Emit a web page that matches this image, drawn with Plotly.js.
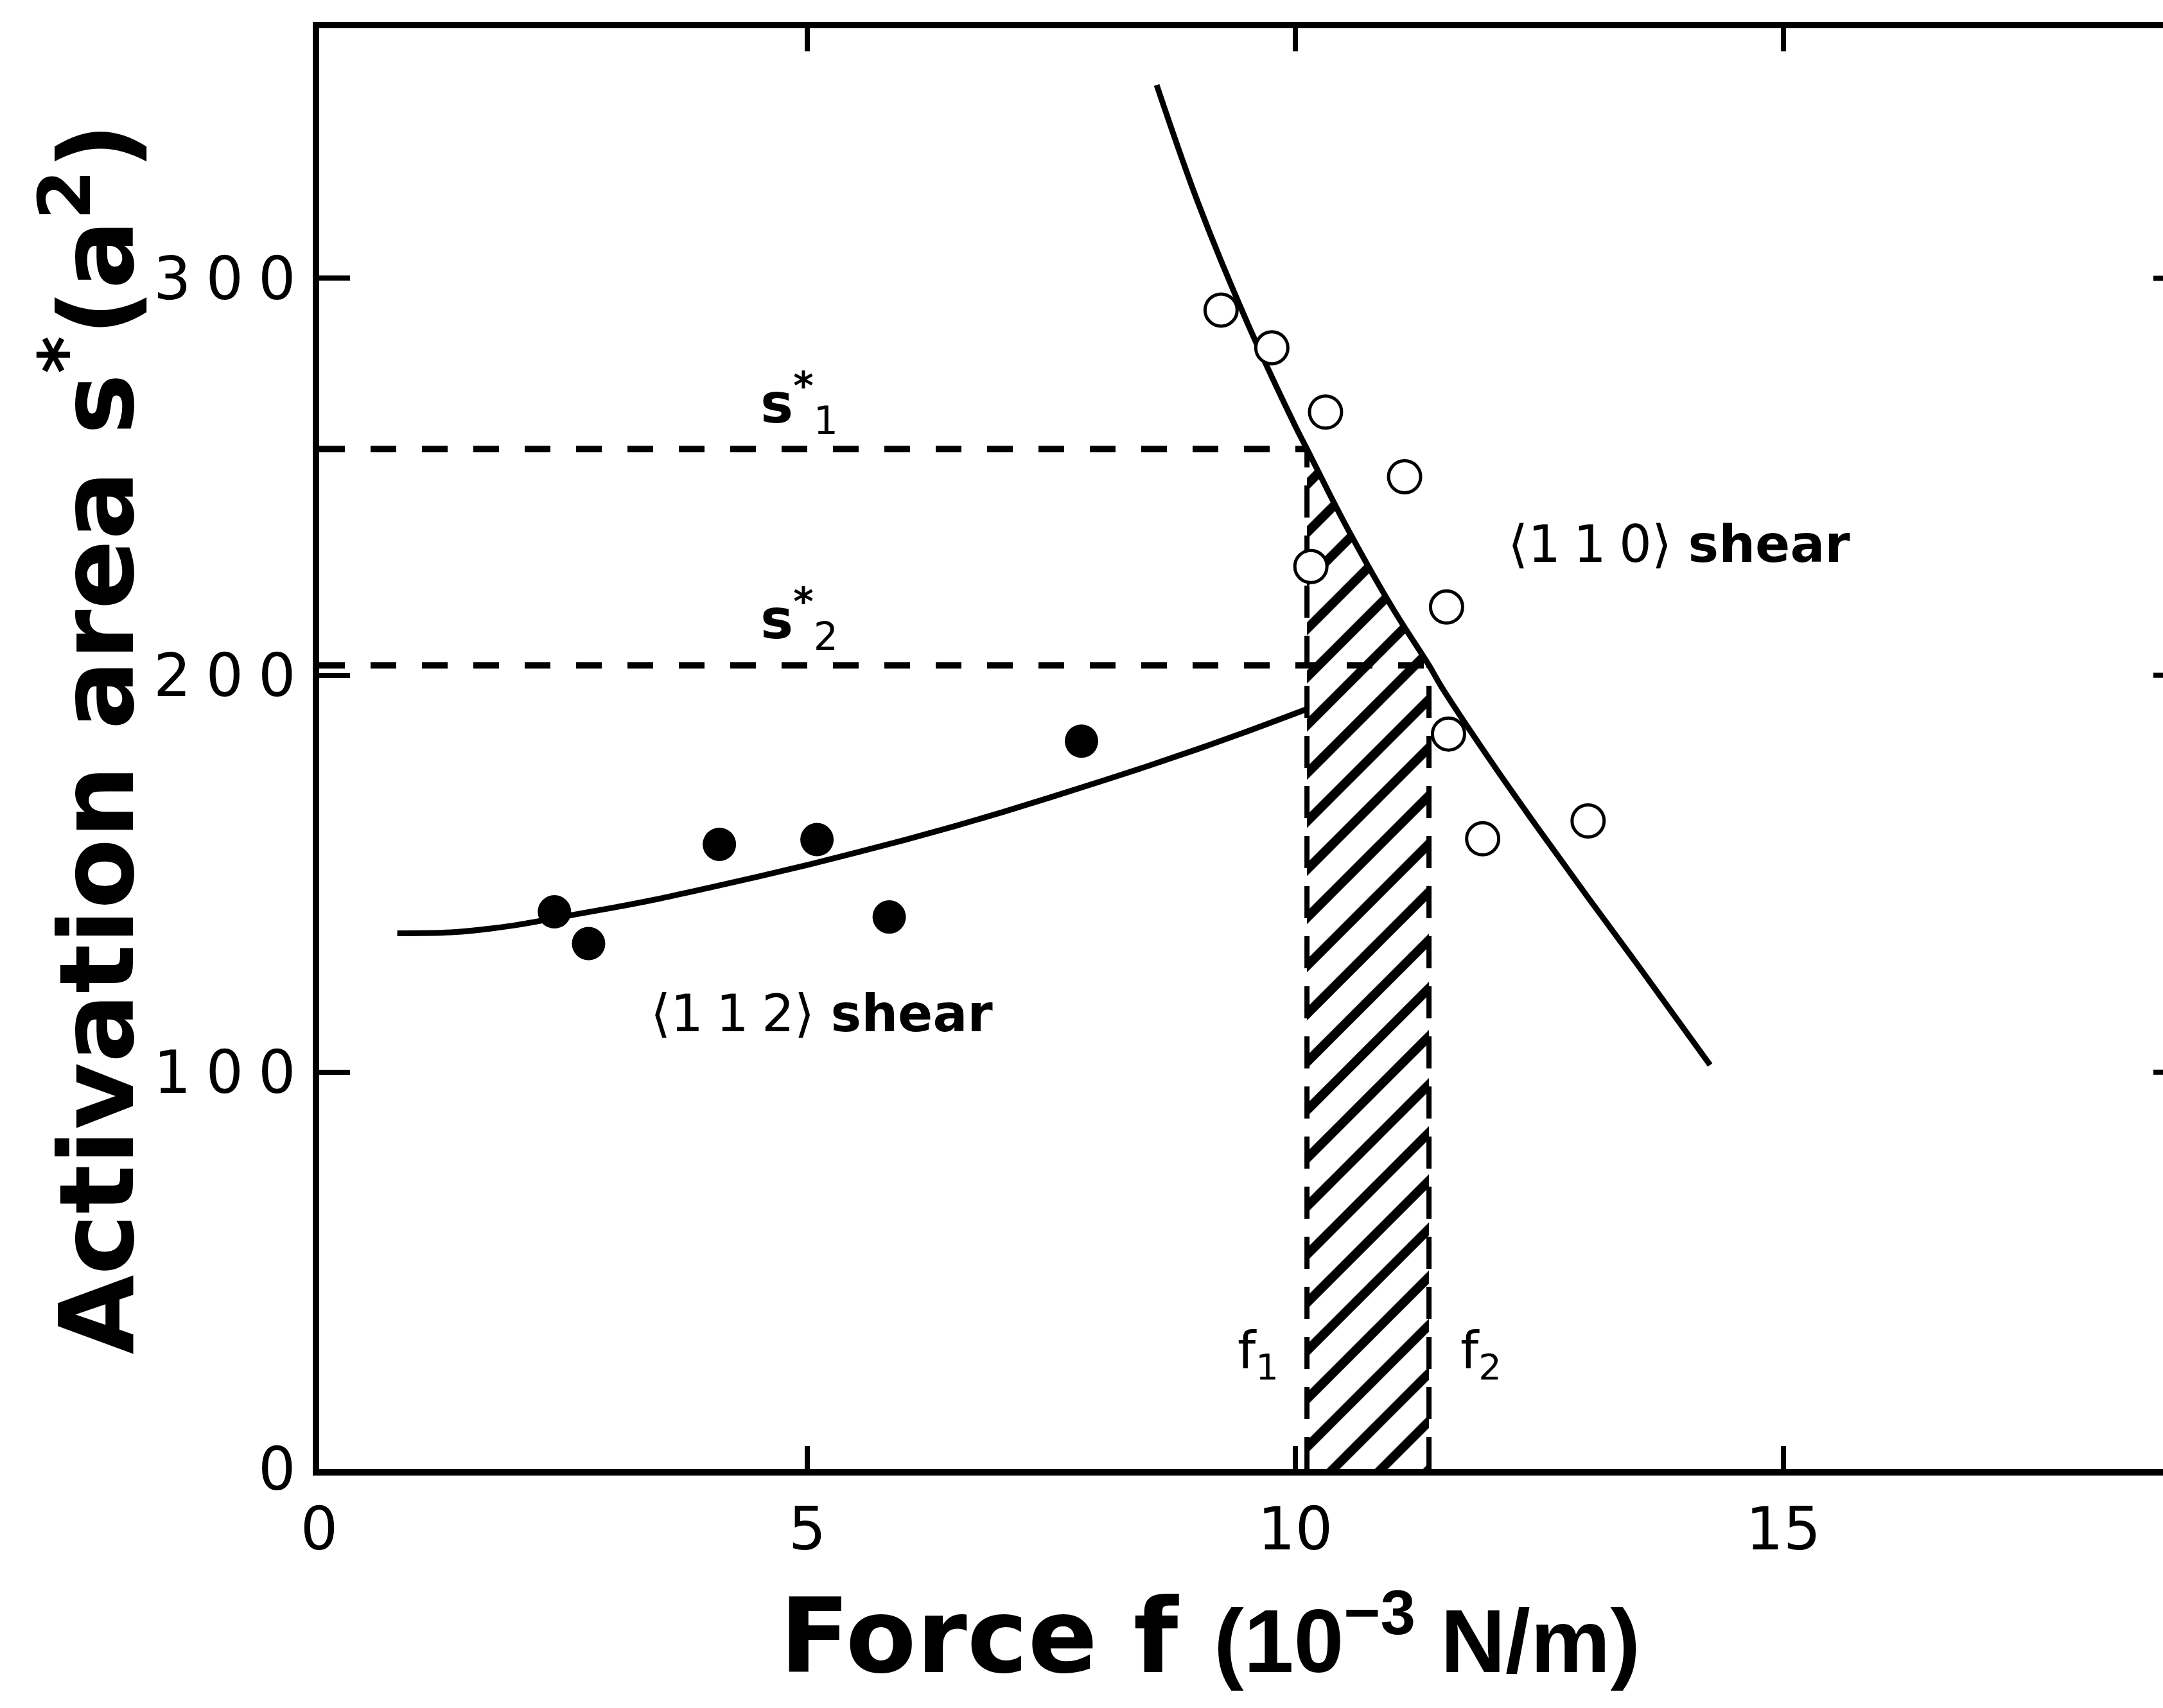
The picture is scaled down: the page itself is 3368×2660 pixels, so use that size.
<!DOCTYPE html>
<html><head><meta charset="utf-8">
<script src="https://cdn.plot.ly/plotly-3.0.1.min.js"></script>
<style>html,body{margin:0;padding:0;background:#fff;}#chart{width:3368px;height:2660px;}</style>
</head><body><div id="chart"></div>
<script>
// <112> shear measurements (filled circles)
const f112 = [2.41, 2.76, 4.10, 5.10, 5.84, 7.81];
const s112 = [140.4, 132.4, 157.4, 158.6, 139.1, 183.4];
// <110> shear measurements (open circles)
const f110 = [9.24, 9.76, 10.31, 11.12, 10.16, 11.55, 11.57, 11.92, 13.0];
const s110 = [292.0, 282.5, 266.3, 250.0, 227.4, 217.2, 185.2, 158.8, 163.3];
// theoretical curves
const fitF112 = [0.8, 1.4, 2.0, 2.5, 3.0, 3.5, 4.0, 4.5, 5.0, 5.5, 6.0, 6.5, 7.0, 7.5, 8.0, 8.5, 9.0, 9.5, 10.12];
const fitS112 = [135.0, 135.3, 137.0, 139.2, 141.4, 143.8, 146.5, 149.3, 152.2, 155.3, 158.5, 161.9, 165.5, 169.3, 173.2, 177.2, 181.4, 185.8, 191.5];
const fitF110 = [8.58, 9.0, 9.5, 10.0, 10.12, 10.5, 11.0, 11.37, 11.5, 12.0, 12.5, 13.0, 13.5, 14.25];
const fitS110 = [348.7, 319.3, 289.3, 262.8, 257.0, 238.6, 216.8, 202.5, 197.0, 178.5, 161.0, 144.0, 127.3, 101.8];
// critical forces and activation areas
const f1 = 10.12, f2 = 11.37;
const s1 = 257.0, s2 = 202.5;
// axis ticks
const xTickVals = [0, 5, 10, 15];
const xTickText = ['0', '5', '10', '15'];
const yTickVals = [0, 100, 200, 300];
const yTickText = ['0', '1\u20050\u20050', '2\u20050\u20050', '3\u20050\u20050'];

const W = 3368, H = 2660;
const ML = 497, MT = 44, MB = H - 2288;
const plotW = W - ML;

// hatched region: between f1 and f2, under the <110> curve
const hx = [f1], hy = [0];
fitF110.forEach((v, i) => { if (v >= f1 - 1e-9 && v <= f2 + 1e-9) { hx.push(v); hy.push(fitS110[i]); } });
hx.push(f2); hy.push(0);

const blk = 'black';
const traces = [
  { x: hx, y: hy, type: 'scatter', mode: 'lines', fill: 'toself', fillcolor: 'rgba(0,0,0,0)',
    fillpattern: { shape: '/', size: 53, solidity: 0.27, fgcolor: blk, bgcolor: 'rgba(0,0,0,0)', fillmode: 'replace' },
    line: { width: 0 }, hoverinfo: 'skip', showlegend: false },
  { x: [0, f1], y: [s1, s1], mode: 'lines', line: { color: blk, width: 10, dash: '40px,40px' }, showlegend: false },
  { x: [0, f2], y: [s2, s2], mode: 'lines', line: { color: blk, width: 10, dash: '40px,40px' }, showlegend: false },
  { x: [f1, f1], y: [0, s1], mode: 'lines', line: { color: blk, width: 8, dash: '50px,28px' }, showlegend: false },
  { x: [f2, f2], y: [0, s2], mode: 'lines', line: { color: blk, width: 8, dash: '50px,28px' }, showlegend: false },
  { x: fitF112, y: fitS112, mode: 'lines', line: { color: blk, width: 9, shape: 'spline', smoothing: 1 }, showlegend: false },
  { x: fitF110, y: fitS110, mode: 'lines', line: { color: blk, width: 9, shape: 'spline', smoothing: 1 }, showlegend: false },
  { x: f112, y: s112, mode: 'markers', marker: { symbol: 'circle', size: 52, color: blk, line: { width: 0 } }, showlegend: false },
  { x: f110, y: s110, mode: 'markers', marker: { symbol: 'circle', size: 50, color: 'white', line: { width: 5, color: blk } }, showlegend: false }
];

const rightTicks = yTickVals.filter(v => v > 0).map(v => ({
  type: 'line', xref: 'paper', yref: 'y', x0: 1 - 15 / plotW, x1: 1, y0: v, y1: v,
  line: { color: blk, width: 8 }
}));

const F = 'DejaVu Sans';
function ann(text, x, y, size, extra) {
  return Object.assign({ text, x, y, xref: 'x', yref: 'y', showarrow: false, xanchor: 'center', yanchor: 'middle',
    font: { family: F, size, color: blk } }, extra || {});
}

const annotations = [
  { text: '<b>Activation area s<sup>*</sup>(a<sup>2</sup>)</b>', xref: 'paper', yref: 'paper',
    x: (140 - ML) / plotW, y: 0.507, textangle: -90, showarrow: false, xanchor: 'center', yanchor: 'middle',
    font: { family: F, size: 160, color: blk } },
  { text: `<b>Force f <span style="font-family:'Liberation Sans';font-size:140px">(10<sup>\u22123</sup> N/m)</span></b>`,
    xref: 'paper', yref: 'paper', x: (1884 - ML) / plotW, y: (2288 - 2548) / (2288 - MT),
    showarrow: false, xanchor: 'center', yanchor: 'middle', font: { family: F, size: 160, color: blk } },
  ann('\u27E81\u20051\u20052\u27E9 <b>shear</b>', 5.15, 114.8, 80),
  ann('\u27E81\u20051\u20050\u27E9 <b>shear</b>', 13.93, 233.1, 80),
  ann('<b>s<sup>*</sup></b><sub>1</sub>', 4.92, 268.5, 86),
  ann('<b>s<sup>*</sup></b><sub>2</sub>', 4.92, 214.2, 86),
  ann('f<sub>1</sub>', 9.62, 29.0, 80),
  ann('f<sub>2</sub>', 11.90, 29.0, 80)
];

const layout = {
  width: W, height: H,
  margin: { l: ML, r: 0, t: MT, b: MB, pad: 0 },
  paper_bgcolor: 'white', plot_bgcolor: 'white',
  font: { family: F, color: blk, size: 92 },
  showlegend: false,
  xaxis: {
    range: [0, 18.89], showgrid: false, zeroline: false,
    showline: true, linewidth: 10, linecolor: blk, mirror: 'ticks',
    ticks: 'inside', ticklen: 36, tickwidth: 8, tickcolor: blk,
    tickvals: xTickVals, ticktext: xTickText, tickfont: { family: F, size: 92, color: blk },
    ticklabelstandoff: 5
  },
  yaxis: {
    range: [0, 363], showgrid: false, zeroline: false,
    showline: true, linewidth: 10, linecolor: blk, mirror: false,
    ticks: 'inside', ticklen: 48, tickwidth: 8, tickcolor: blk,
    tickvals: yTickVals, ticktext: yTickText, tickfont: { family: F, size: 92, color: blk },
    ticklabelstandoff: 8
  },
  shapes: rightTicks,
  annotations: annotations
};

Plotly.newPlot('chart', traces, layout, { staticPlot: true, displayModeBar: false });
</script>
</body></html>
